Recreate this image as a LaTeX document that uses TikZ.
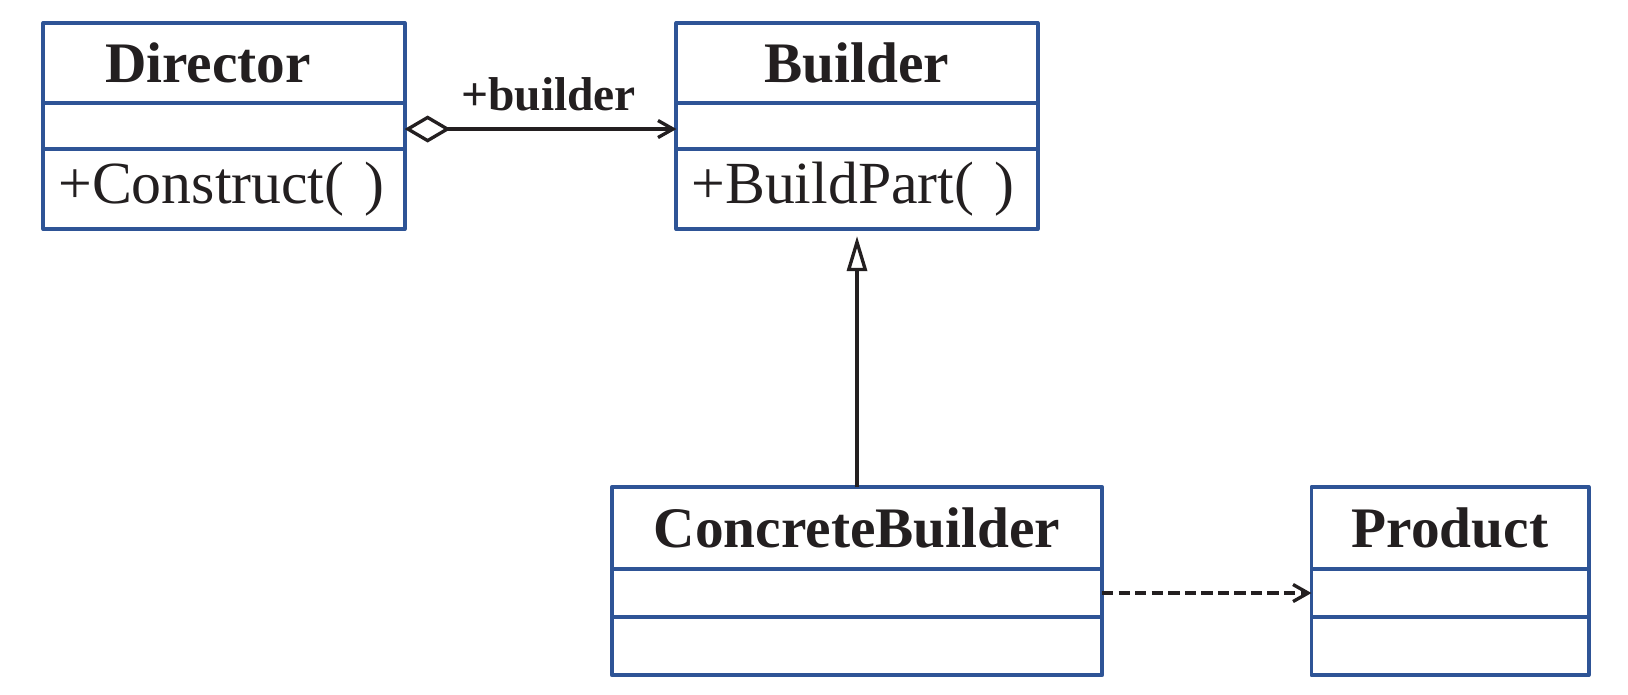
\documentclass[tikz,border=0pt]{standalone}
\usepackage{fontspec}
\setmainfont{Liberation Serif}
\usepackage{xcolor}
\usetikzlibrary{arrows.meta,positioning}
\definecolor{umlblue}{RGB}{46,84,150}
\definecolor{umlink}{RGB}{35,31,32}

\begin{document}
\begin{tikzpicture}[x=0.01cm,y=-0.01cm,line join=round,
  cls/.style={draw=umlblue,line width=1.1pt,outer sep=0pt,inner sep=0pt,text=umlink},
  title/.style={cls,font=\fontsize{16.3}{18}\selectfont\bfseries},
  ops/.style={cls,font=\fontsize{17}{19}\selectfont,align=left,inner xsep=0.15cm},
  link/.style={line width=0.95pt,draw=umlink},
  lbl/.style={font=\fontsize{13.5}{15}\selectfont\bfseries,text=umlink,inner sep=2pt}]
  \useasboundingbox (0,0) rectangle (1628,695);
  % Director
  \node[title,minimum width=3.61cm,minimum height=0.80cm] (dir) at (224,63) {Director\hspace*{0.32cm}};
  \node[cls,minimum width=3.61cm,minimum height=0.46cm,below=0pt of dir] (dir-attr) {};
  \node[ops,text width=3.31cm,minimum height=0.80cm,below=0pt of dir-attr] (dir-op) {+Construct( )};
  % Builder
  \node[title,minimum width=3.61cm,minimum height=0.80cm] (bld) at (857,63) {Builder};
  \node[cls,minimum width=3.61cm,minimum height=0.46cm,below=0pt of bld] (bld-attr) {};
  \node[ops,text width=3.31cm,minimum height=0.80cm,below=0pt of bld-attr] (bld-op) {+BuildPart( )};
  % ConcreteBuilder
  \node[title,minimum width=4.90cm,minimum height=0.82cm] (cb) at (857,528) {ConcreteBuilder};
  \node[cls,minimum width=4.90cm,minimum height=0.48cm,below=0pt of cb] (cb-attr) {};
  \node[cls,minimum width=4.90cm,minimum height=0.58cm,below=0pt of cb-attr] (cb-op) {};
  % Product
  \node[title,minimum width=2.77cm,minimum height=0.82cm] (prod) at (1450,528) {Product};
  \node[cls,minimum width=2.77cm,minimum height=0.48cm,below=0pt of prod] (prod-attr) {};
  \node[cls,minimum width=2.77cm,minimum height=0.58cm,below=0pt of prod-attr] (prod-op) {};
  % relations
  \draw[link,{Diamond[open,length=0.46cm,width=0.27cm]}-{Straight Barb[length=0.15cm,width=0.17cm]}]
    ([yshift=-0.03cm]dir-attr.east) -- node[lbl,above=2.5pt,pos=0.53] (role) {+builder} ([yshift=-0.03cm]bld-attr.west);
  \draw[link,-{Triangle[open,length=0.35cm,width=0.2cm]},shorten >=0.07cm]
    (cb.north) -- (bld-op.south);
  \draw[link,dash pattern=on 3.2pt off 1.5pt,-{Straight Barb[length=0.15cm,width=0.17cm]}]
    (cb-attr.east) -- (prod-attr.west);
\end{tikzpicture}
\end{document}
